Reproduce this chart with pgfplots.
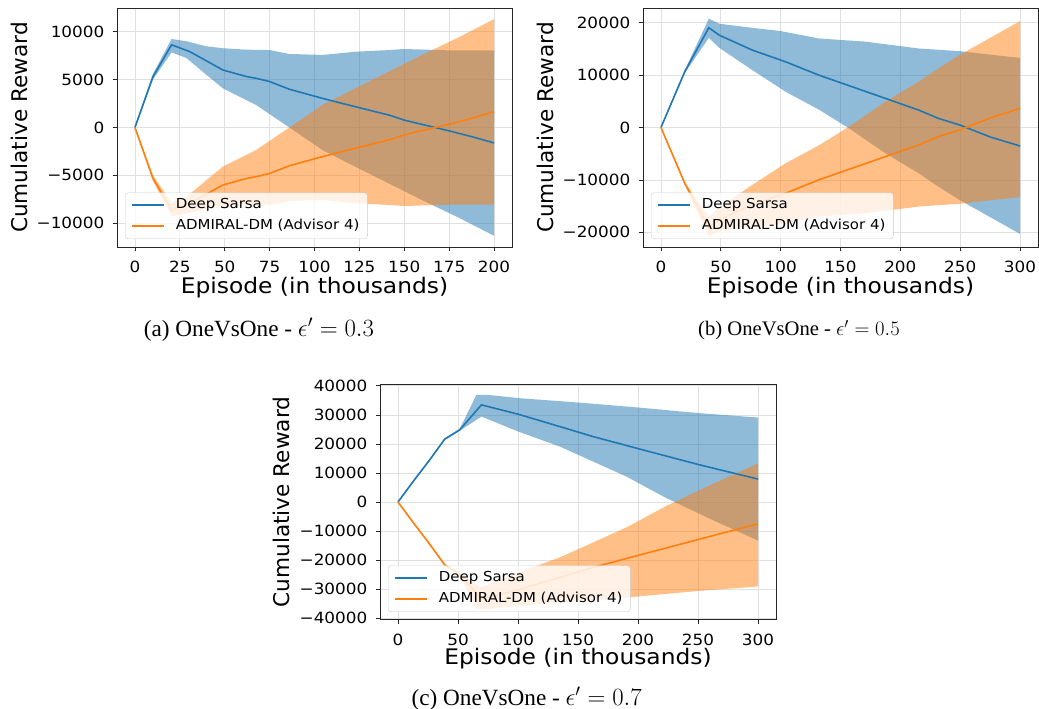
\documentclass[border=0pt]{standalone}
\usepackage{pgfplots}
\pgfplotsset{compat=1.18}
\usepackage{fontspec}
\setmainfont{Liberation Serif}
\newfontfamily\mpl[FakeStretch=1.09]{DejaVu Sans}
\newfontfamily\mplv{DejaVu Sans}
\definecolor{mblue}{HTML}{1F77B4}
\definecolor{morange}{HTML}{FF7F0E}

\pgfplotsset{
  mplstyle/.style={
    scale only axis, width=395bp, height=239bp,
    scaled ticks=false,
    axis line style={line width=0.8bp, black!85},
    tick pos=left, tick align=outside,
    major tick length=4.5bp,
    tick style={line width=0.8bp, black!85},
    grid=major, grid style={line width=0.8bp, black!12},
    tick label style={font=\mpl\fontsize{15.5}{16}\selectfont},
    xticklabel style={anchor=north, inner sep=0pt, yshift=-9.7bp},
    yticklabel style={anchor=east, inner sep=0pt, xshift=-8bp},
    ylabel style={at={(axis description cs:-0.248,0.5)}, anchor=center, font=\mplv\fontsize{21.7}{22}\selectfont},
    xlabel style={at={(axis description cs:0.5,-0.1925)}, anchor=base, font=\mpl\fontsize{21.5}{22}\selectfont},
    xlabel={Episode (in thousands)},
    ylabel={Cumulative Reward},
    no markers,
    legend cell align=left,
    legend image code/.code={\draw[##1, line width=1.6bp] (0bp,0bp) -- (32bp,0bp);},
    legend style={at={(0.0203,0.0335)}, anchor=south west, draw=black!20, rounded corners=3bp,
      fill=white, fill opacity=0.8, text opacity=1, inner xsep=6bp, inner ysep=6bp,
      row sep=8bp, column sep=9bp, font=\mpl\fontsize{13.8}{14}\selectfont,
      nodes={inner ysep=0pt, inner xsep=2bp, text height=10bp, text depth=3bp}},
  },
  bfill/.style={fill=mblue, fill opacity=0.5, draw=none, forget plot},
  ofill/.style={fill=morange, fill opacity=0.5, draw=none, forget plot},
  bline/.style={mblue, line width=1.6bp},
  oline/.style={morange, line width=1.6bp},
}

\begin{document}
\begin{tikzpicture}
\path[use as bounding box] (0,0) rectangle (1039bp,709bp);

% ---------------- (a) ----------------
\begin{axis}[mplstyle, at={(117bp,462bp)}, anchor=south west,
  xmin=-10, xmax=210, ymin=-12500, ymax=12500,
  xtick={0,25,50,75,100,125,150,175,200},
  xticklabels={0,25,50,75,100,125,150,175,200},
  ytick={-10000,-5000,0,5000,10000},
  yticklabels={−10000,−5000,0,5000,10000}]
\addplot[bfill] coordinates {
 (0,150) (10,5600) (20.4,9260) (28.7,9020) (39.8,8490) (49,8290) (62,8140) (75,8100) (86,7690) (104.6,7590) (123,7930) (141.7,8100) (150,8210) (175,8070) (200,8070)
 (200,-11330) (180,-9400) (160,-7600) (141.7,-5880) (123,-4130) (104.6,-2380) (86,0) (67.6,2340) (49,4090) (39.8,5510) (28.7,7260) (20.4,7860) (10,5000) (0,-150)};
\addplot[ofill] coordinates {
 (0,150) (10,-5000) (20.4,-7860) (28.7,-7260) (39.8,-5510) (49,-4090) (67.6,-2340) (86,0) (104.6,2380) (123,4130) (141.7,5880) (160,7600) (180,9400) (200,11330)
 (200,-8070) (175,-8070) (150,-8210) (141.7,-8100) (123,-7930) (104.6,-7590) (86,-7690) (75,-8100) (62,-8140) (49,-8290) (39.8,-8490) (28.7,-9020) (20.4,-9260) (10,-5600) (0,-150)};
\addplot[bline] coordinates {
 (0,0) (10,5300) (20.4,8650) (30.6,7930) (49,6010) (62,5333) (67.6,5140) (75,4807) (86,4000) (104.6,3040) (123,2160) (141.7,1290) (150,772) (164,140) (175,-351) (188,-982) (200,-1614)};
\addplot[oline] coordinates {
 (0,0) (10,-5300) (20.4,-8650) (30.6,-7930) (49,-6010) (62,-5333) (67.6,-5140) (75,-4807) (86,-4000) (104.6,-3040) (123,-2160) (141.7,-1290) (150,-772) (164,-140) (175,351) (188,982) (200,1650)};
\legend{Deep Sarsa, ADMIRAL-DM (Advisor 4)}
\end{axis}

% ---------------- (b) ----------------
\begin{axis}[mplstyle, at={(643bp,462bp)}, anchor=south west,
  xmin=-15, xmax=315, ymin=-22800, ymax=22800,
  xtick={0,50,100,150,200,250,300},
  xticklabels={0,50,100,150,200,250,300},
  ytick={-20000,-10000,0,10000,20000},
  yticklabels={−20000,−10000,0,10000,20000}]
\addplot[bfill] coordinates {
 (0,150) (20,11000) (40,20770) (48.7,19800) (76.5,19000) (100,18400) (132,16980) (170,16400) (215.6,15070) (250,14550) (300,13270)
 (300,-20300) (275,-17100) (250,-13900) (232,-11330) (215.6,-8780) (187.8,-4960) (156,0) (132,3400) (104.3,6800) (76.5,10930) (48.7,15200) (40,17100) (20,10400) (0,-150)};
\addplot[ofill] coordinates {
 (0,150) (20,-10400) (40,-17100) (48.7,-15200) (76.5,-10930) (104.3,-6800) (132,-3400) (156,0) (187.8,4960) (215.6,8780) (232,11330) (250,13900) (275,17100) (300,20300)
 (300,-13270) (250,-14550) (215.6,-15070) (170,-16400) (132,-16980) (100,-18400) (76.5,-19000) (48.7,-19800) (40,-20770) (20,-11000) (0,-150)};
\addplot[bline] coordinates {
 (0,0) (20,10700) (40,19040) (48.7,17610) (76.5,14750) (104.3,12520) (132,9980) (160,7750) (187.8,5530) (215.6,3300) (232,1720) (250,450) (275,-1800) (300,-3530)};
\addplot[oline] coordinates {
 (0,0) (20,-10700) (40,-19040) (48.7,-17610) (76.5,-14750) (104.3,-12520) (132,-9980) (160,-7750) (187.8,-5530) (215.6,-3300) (232,-1720) (250,-450) (275,1800) (300,3650)};
\legend{Deep Sarsa, ADMIRAL-DM (Advisor 4)}
\end{axis}

% ---------------- (c) ----------------
\begin{axis}[mplstyle, at={(380bp,89.3bp)}, anchor=south west, width=396bp, height=235.4bp,
  xlabel style={at={(axis description cs:0.5,-0.19)}},
  legend style={at={(0.0202,0.033)}},
  xmin=-15, xmax=315, ymin=-40550, ymax=40550,
  xtick={0,50,100,150,200,250,300},
  xticklabels={0,50,100,150,200,250,300},
  ytick={-40000,-30000,-20000,-10000,0,10000,20000,30000,40000},
  yticklabels={−40000,−30000,−20000,−10000,0,10000,20000,30000,40000}]
\addplot[bfill] coordinates {
 (0,150) (12.5,7300) (26.4,14800) (38.9,21900) (51.4,25200) (65.3,36900) (75,36900) (101.4,35760) (150,34270) (200,32550) (251.4,30600) (300,29100)
 (300,-13300) (260,-5800) (223.7,1330) (190.3,8770) (134.8,19100) (100,24300) (69.5,29430) (51.4,24500) (38.9,21400) (26.4,14200) (12.5,6700) (0,-150)};
\addplot[ofill] coordinates {
 (0,150) (12.5,-6700) (26.4,-14200) (38.9,-21400) (51.4,-24500) (69.5,-29430) (100,-24300) (134.8,-19100) (190.3,-8770) (223.7,-1330) (260,5800) (300,13300)
 (300,-29100) (251.4,-30600) (200,-32550) (150,-34270) (101.4,-35760) (75,-36900) (65.3,-36900) (51.4,-25200) (38.9,-21900) (26.4,-14800) (12.5,-7300) (0,-150)};
\addplot[bline] coordinates {
 (0,0) (12.5,7000) (26.4,14500) (38.9,21640) (51.4,24850) (69.5,33460) (100,30260) (134.8,25990) (162.5,22540) (204,17960) (251.4,12790) (300,7900)};
\addplot[oline] coordinates {
 (0,0) (12.5,-7000) (26.4,-14500) (38.9,-21640) (51.4,-24850) (69.5,-33460) (100,-30260) (134.8,-25990) (162.5,-22540) (204,-17960) (251.4,-12790) (300,-7500)};
\legend{Deep Sarsa, ADMIRAL-DM (Advisor 4)}
\end{axis}

% ---------------- captions ----------------
\node[anchor=base, font=\fontsize{23.3}{24}\selectfont] at (259bp,372.5bp) {(a) OneVsOne - $\epsilon' = 0.3$};
\node[anchor=base, font=\fontsize{20.7}{22}\selectfont] at (799bp,373bp) {(b) OneVsOne - $\epsilon' = 0.5$};
\node[anchor=base, font=\fontsize{23.3}{24}\selectfont] at (526.7bp,4bp) {(c) OneVsOne - $\epsilon' = 0.7$};
\end{tikzpicture}
\end{document}
